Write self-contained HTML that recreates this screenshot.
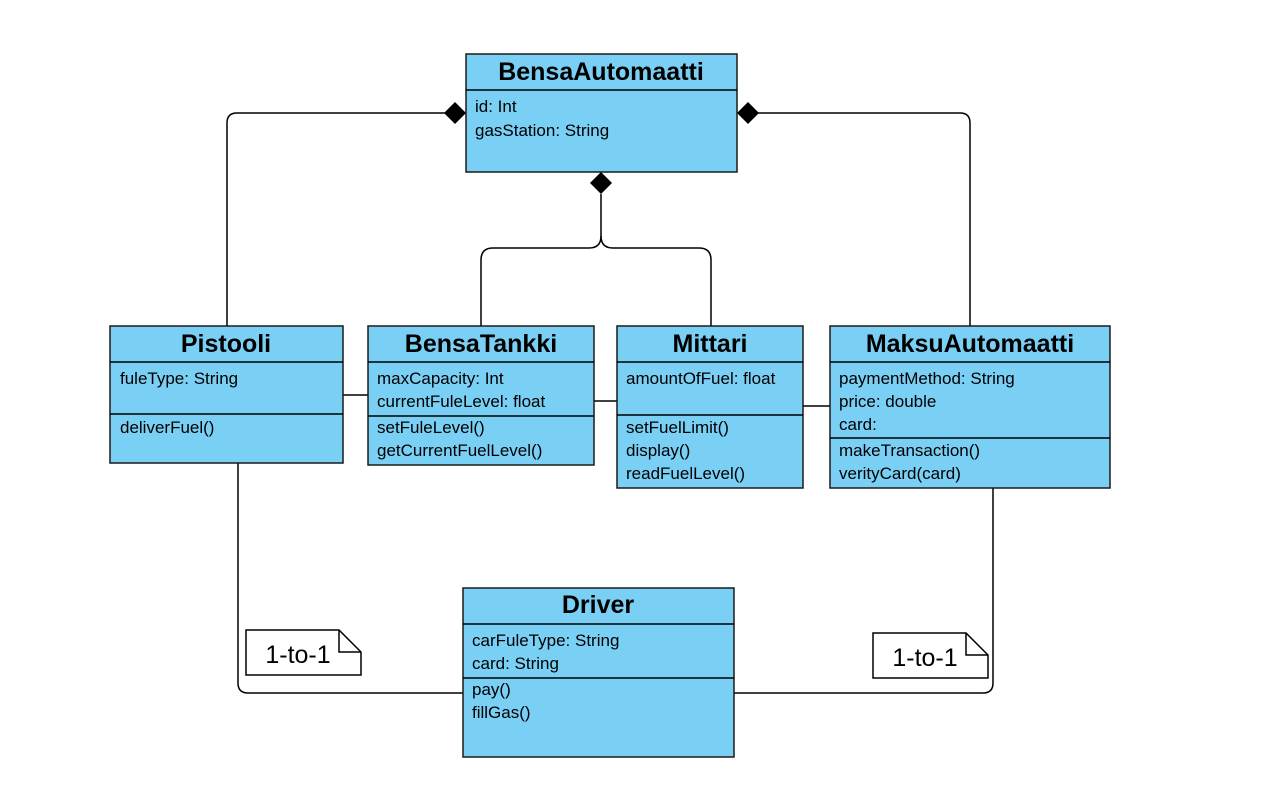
<!DOCTYPE html>
<html><head><meta charset="utf-8"><style>
html,body{margin:0;padding:0;background:#fff;}
svg{display:block;}
text{font-family:"Liberation Sans",sans-serif;fill:#000;}
.t{font-size:25px;font-weight:bold;text-anchor:middle;}
.a{font-size:17px;}
.b{fill:#7ACFF4;stroke:#1a1a1a;stroke-width:1.5;}
.l{fill:none;stroke:#000;stroke-width:1.5;}
</style></head><body>
<svg width="1262" height="806" viewBox="0 0 1262 806">
<path class="l" d="M455 113 H237 Q227 113 227 123 V326"/>
<path class="l" d="M748 113 H960 Q970 113 970 123 V326"/>
<path class="l" d="M601 194 V236 Q601 248 589 248 H493 Q481 248 481 260 V326"/>
<path class="l" d="M601 236 Q601 248 613 248 H699 Q711 248 711 260 V326"/>
<path class="l" d="M343 395 H368"/>
<path class="l" d="M594 401 H617"/>
<path class="l" d="M803 406 H830"/>
<path class="l" d="M238 463 V683 Q238 693 248 693 H463"/>
<path class="l" d="M993 488 V683 Q993 693 983 693 H734"/>
<polygon points="444,113 455,102 466,113 455,124" fill="#000"/>
<polygon points="737,113 748,102 759,113 748,124" fill="#000"/>
<polygon points="601,172 612,183 601,194 590,183" fill="#000"/>
<rect class="b" x="466" y="54" width="271" height="118"/>
<line class="l" x1="466" y1="90" x2="737" y2="90"/>
<text class="t" x="601" y="80">BensaAutomaatti</text>
<text class="a" x="475" y="112">id: Int</text>
<text class="a" x="475" y="136">gasStation: String</text>
<rect class="b" x="110" y="326" width="233" height="137"/>
<line class="l" x1="110" y1="362" x2="343" y2="362"/>
<line class="l" x1="110" y1="414" x2="343" y2="414"/>
<text class="t" x="226" y="352">Pistooli</text>
<text class="a" x="120" y="384">fuleType: String</text>
<text class="a" x="120" y="433">deliverFuel()</text>
<rect class="b" x="368" y="326" width="226" height="139"/>
<line class="l" x1="368" y1="362" x2="594" y2="362"/>
<line class="l" x1="368" y1="416" x2="594" y2="416"/>
<text class="t" x="481" y="352">BensaTankki</text>
<text class="a" x="377" y="384">maxCapacity: Int</text>
<text class="a" x="377" y="407">currentFuleLevel: float</text>
<text class="a" x="377" y="433">setFuleLevel()</text>
<text class="a" x="377" y="456">getCurrentFuelLevel()</text>
<rect class="b" x="617" y="326" width="186" height="162"/>
<line class="l" x1="617" y1="362" x2="803" y2="362"/>
<line class="l" x1="617" y1="415" x2="803" y2="415"/>
<text class="t" x="710" y="352">Mittari</text>
<text class="a" x="626" y="384">amountOfFuel: float</text>
<text class="a" x="626" y="433">setFuelLimit()</text>
<text class="a" x="626" y="456">display()</text>
<text class="a" x="626" y="479">readFuelLevel()</text>
<rect class="b" x="830" y="326" width="280" height="162"/>
<line class="l" x1="830" y1="362" x2="1110" y2="362"/>
<line class="l" x1="830" y1="438" x2="1110" y2="438"/>
<text class="t" x="970" y="352">MaksuAutomaatti</text>
<text class="a" x="839" y="384">paymentMethod: String</text>
<text class="a" x="839" y="407">price: double</text>
<text class="a" x="839" y="430">card:</text>
<text class="a" x="839" y="456">makeTransaction()</text>
<text class="a" x="839" y="479">verityCard(card)</text>
<rect class="b" x="463" y="588" width="271" height="169"/>
<line class="l" x1="463" y1="624" x2="734" y2="624"/>
<line class="l" x1="463" y1="678" x2="734" y2="678"/>
<text class="t" x="598" y="613">Driver</text>
<text class="a" x="472" y="646">carFuleType: String</text>
<text class="a" x="472" y="669">card: String</text>
<text class="a" x="472" y="695">pay()</text>
<text class="a" x="472" y="718">fillGas()</text>
<path d="M246 630 H339 L361 652 V675 H246 Z" fill="#fff" stroke="#000" stroke-width="1.5"/>
<path class="l" d="M339 630 V652 H361"/>
<text x="298" y="663" style="font-size:25px;text-anchor:middle">1-to-1</text>
<path d="M873 633 H966 L988 655 V678 H873 Z" fill="#fff" stroke="#000" stroke-width="1.5"/>
<path class="l" d="M966 633 V655 H988"/>
<text x="925" y="666" style="font-size:25px;text-anchor:middle">1-to-1</text>
</svg>
</body></html>
